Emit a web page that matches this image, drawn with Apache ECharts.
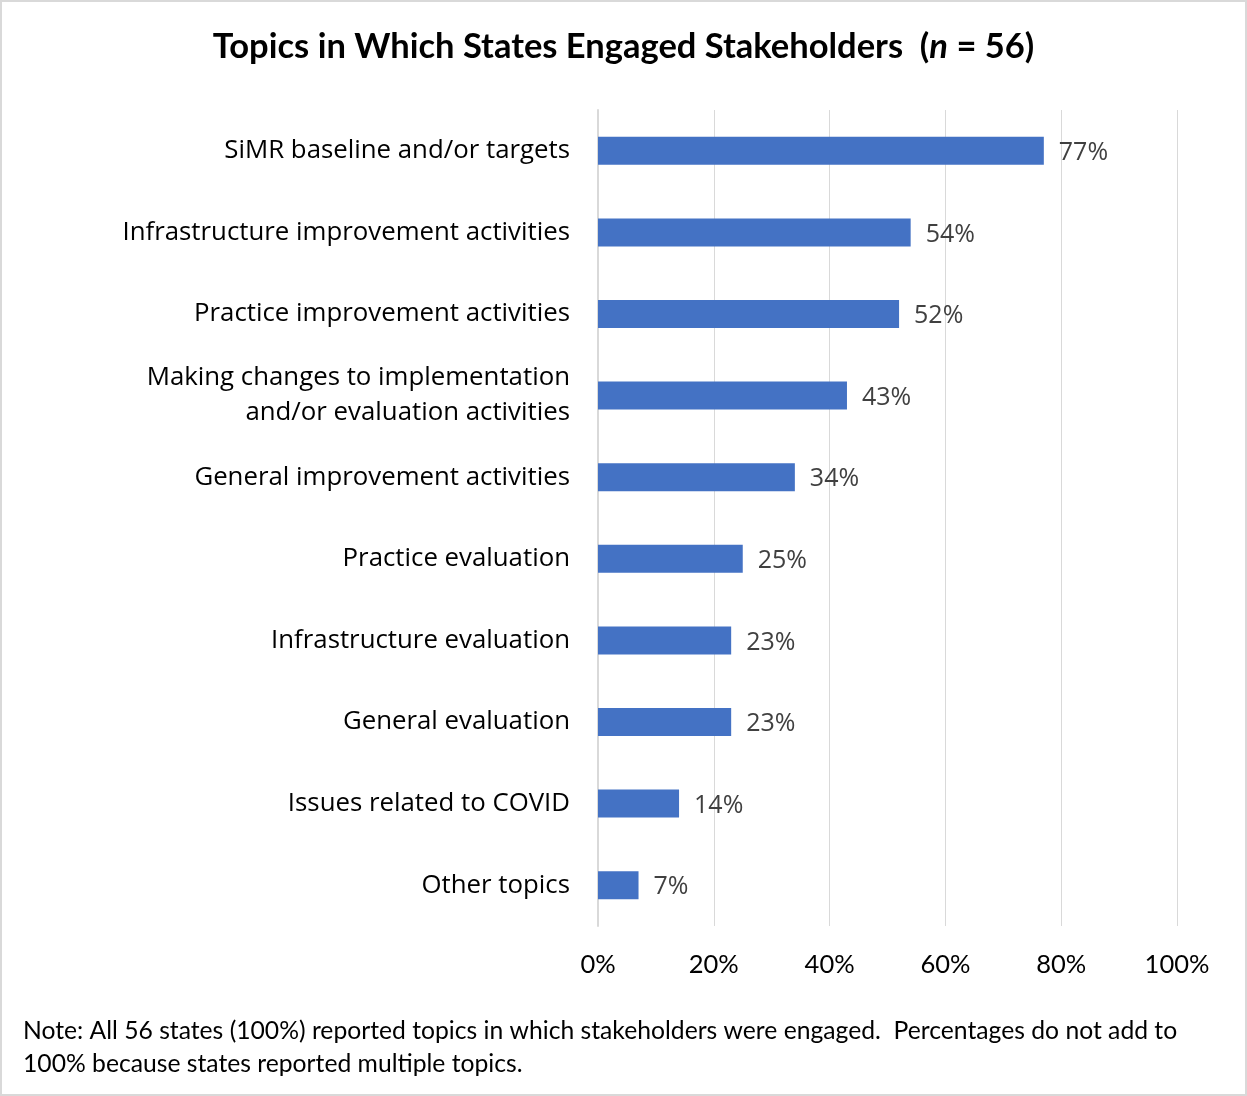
<!DOCTYPE html>
<html>
<head>
<meta charset="utf-8">
<script src="https://cdn.jsdelivr.net/npm/echarts@6/dist/echarts.min.js"></script>
<style>
  html, body { margin: 0; padding: 0; background: #fff; }
  #chart { width: 1247px; height: 1096px; box-sizing: border-box; border: 2px solid #d9d9d9; }
</style>
</head>
<body>
<div id="chart"></div>
<script>
// Topics in which states engaged stakeholders, share of states (n = 56)
const topics = [
  'SiMR baseline and/or targets',
  'Infrastructure improvement activities',
  'Practice improvement activities',
  'Making changes to implementation\nand/or evaluation activities',
  'General improvement activities',
  'Practice evaluation',
  'Infrastructure evaluation',
  'General evaluation',
  'Issues related to COVID',
  'Other topics'
];
const percentages = [77, 54, 52, 43, 34, 25, 23, 23, 14, 7];
const axisTicks = [0, 20, 40, 60, 80, 100];
const noteLines = [
  'Note: All 56 states (100%) reported topics in which stakeholders were engaged.  Percentages do not add to',
  '100% because states reported multiple topics.'
];

const chart = echarts.init(document.getElementById('chart'));
chart.setOption({
  animation: false,
  title: {
    text: '{b|Topics in Which States Engaged Stakeholders  (}{i|n}{b| = 56)}',
    left: 'center',
    top: 22,
    textStyle: {
      rich: {
        b: { fontFamily: 'Lato', fontWeight: 'bold', fontSize: 34.5, color: '#000' },
        i: { fontFamily: 'Lato', fontWeight: 'bold', fontStyle: 'italic', fontSize: 34.5, color: '#000' }
      }
    }
  },
  grid: { left: 596, right: 68, top: 108, bottom: 168 },
  xAxis: {
    type: 'value',
    min: axisTicks[0],
    max: axisTicks[axisTicks.length - 1],
    interval: 20,
    axisLine: { show: false },
    axisTick: { show: false },
    splitLine: { show: true, lineStyle: { color: '#d9d9d9', width: 1 } },
    axisLabel: {
      formatter: v => v + '%',
      fontFamily: 'Lato',
      fontSize: 25.5,
      color: '#000',
      margin: 26
    }
  },
  yAxis: {
    type: 'category',
    data: topics,
    inverse: true,
    axisLine: { show: true, lineStyle: { color: '#d9d9d9', width: 2 } },
    axisTick: { show: false },
    axisLabel: {
      fontFamily: 'Open Sans',
      fontSize: 25.8,
      color: '#000',
      margin: 28,
      align: 'right',
      lineHeight: 35,
      padding: [5, 0, 0, 0]
    }
  },
  series: [{
    type: 'bar',
    data: percentages,
    barWidth: 28,
    itemStyle: { color: '#4472c4' },
    label: {
      show: true,
      position: 'right',
      distance: 15,
      offset: [0, 2],
      formatter: p => p.value + '%',
      fontFamily: 'Open Sans',
      fontSize: 25,
      color: '#404040'
    }
  }],
  graphic: noteLines.map((t, i) => ({
    type: 'text',
    x: 21,
    y: 1029 + i * 33,
    style: { text: t, fontFamily: 'Lato', fontSize: 24.7, fill: '#000', verticalAlign: 'middle' }
  }))
});
</script>
</body>
</html>
